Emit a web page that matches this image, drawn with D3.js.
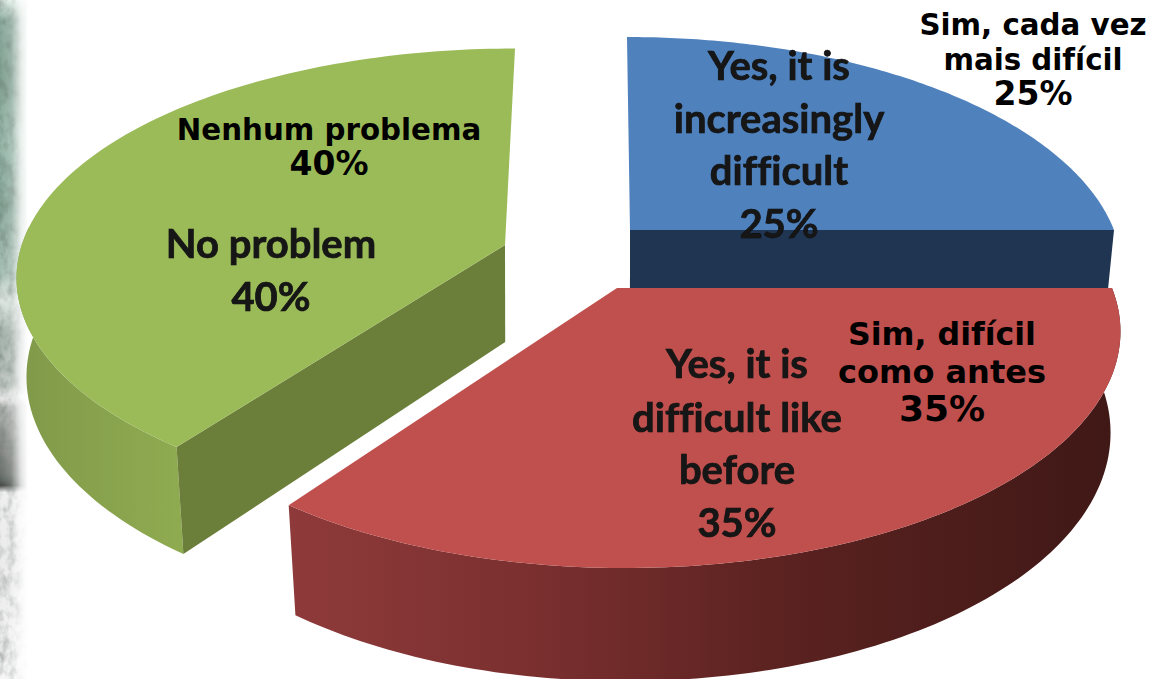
<!DOCTYPE html>
<html><head><meta charset="utf-8">
<script src="https://cdn.jsdelivr.net/npm/d3@7"></script>
<style>html,body{margin:0;padding:0;background:#fff}svg{display:block}</style>
</head><body><svg id="c" width="1157" height="679"></svg>
<script>
const categories = ["Yes, it is increasingly difficult", "Yes, it is difficult like before", "No problem"];
const values = [25, 35, 40];
const colorsTop = ["#4f81bd", "#c0504d", "#9bbb59"];
const colorsCut = ["#1f3552", "#4a1c1a", "#6b7f3a"];
const englishLabels = [["Yes, it is","increasingly","difficult","25%"],["Yes, it is","difficult like","before","35%"],["No problem","40%"]];
const portugueseLabels = [["Sim, cada vez","mais difícil","25%"],["Sim, difícil","como antes","35%"],["Nenhum problema","40%"]];

const W = 1157, H = 679;
const svg = d3.select("#c");
const defs = svg.append("defs");

// Left photo strip
const fade = defs.append("linearGradient").attr("id","fade");
fade.append("stop").attr("offset",0).attr("stop-color","#fff").attr("stop-opacity",0);
fade.append("stop").attr("offset",.4).attr("stop-color","#fff").attr("stop-opacity",.2);
fade.append("stop").attr("offset",.75).attr("stop-color","#fff").attr("stop-opacity",.8);
fade.append("stop").attr("offset",1).attr("stop-color","#fff").attr("stop-opacity",1);
const strip = defs.append("linearGradient").attr("id","strip").attr("x1",0).attr("x2",0).attr("y1",0).attr("y2",1);
[[0,"#dfeee6"],[.03,"#8aa99c"],[.12,"#7f9f90"],[.2,"#98b9ab"],[.3,"#85a597"],[.4,"#a5bfb3"],[.44,"#dce6e0"],[.5,"#a5b2ac"],[.57,"#bcc4c0"],[.585,"#f2f2f2"],[.6,"#b0b3b1"],[.7,"#6a6d6a"],[.715,"#454846"],[.725,"#eeeeee"],[.85,"#eaeaea"],[1,"#f6f6f6"]]
  .forEach(([o,c])=>strip.append("stop").attr("offset",o).attr("stop-color",c));
const noise = defs.append("filter").attr("id","noise").attr("x",0).attr("y",0).attr("width",1).attr("height",1);
noise.append("feTurbulence").attr("type","fractalNoise").attr("baseFrequency","0.12 0.08").attr("numOctaves",3).attr("seed",4).attr("result","n");
noise.append("feColorMatrix").attr("in","n").attr("type","matrix")
  .attr("values","0 0 0 0 0.1  0 0 0 0 0.15  0 0 0 0 0.12  1.2 0 0 0 -0.45").attr("result","a");
noise.append("feComposite").attr("in","a").attr("in2","SourceGraphic").attr("operator","over").attr("result","o");
noise.append("feComposite").attr("in","o").attr("in2","SourceGraphic").attr("operator","in");
svg.append("rect").attr("x",0).attr("y",0).attr("width",28).attr("height",H).attr("fill","url(#strip)").attr("filter","url(#noise)");
svg.append("rect").attr("x",0).attr("y",0).attr("width",28).attr("height",H).attr("fill","url(#fade)");

// Wall gradients
const gRed = defs.append("linearGradient").attr("id","wall1").attr("gradientUnits","userSpaceOnUse").attr("x1",290).attr("x2",1120).attr("y1",0).attr("y2",0);
[[0,"#8f3a3a"],[.3,"#7a2f2f"],[.6,"#5a2220"],[1,"#3f1816"]].forEach(([o,c])=>gRed.append("stop").attr("offset",o).attr("stop-color",c));
const gGreen = defs.append("linearGradient").attr("id","wall2").attr("gradientUnits","userSpaceOnUse").attr("x1",15).attr("x2",182).attr("y1",0).attr("y2",0);
[[0,"#80994a"],[1,"#8fab50"]].forEach(([o,c])=>gGreen.append("stop").attr("offset",o).attr("stop-color",c));

// Slight softening matching the blurry source
defs.append("filter").attr("id","soft").append("feGaussianBlur").attr("stdDeviation",.55);

// Perspective projection of the pie plane: one rim ellipse and one apex per exploded slice
const P = 0.184;
const rims = [{c:[627,230],A:487,B:228.5},{c:[625,288],A:487,B:228.5},{c:[515,236],A:490,B:222}];
const apexes = [[630,230],[617,288],[505,245]];
const project = (r,ang) => {
  const X = Math.sin(ang), Y = -Math.cos(ang), w = 1 - P*Y;
  return [r.c[0] + r.A*X/w, r.c[1] + r.B*Y/w];
};
const depth = y => 97 + 0.05*(y-245);
const lower = (c,p) => [c[0] + (p[0]-c[0])*0.98, p[1] + depth(p[1])];

const arcs = d3.pie().sort(null)(values);
const line = d3.line();
const order = [2,0,1];

order.forEach(i => {
  const a = arcs[i], r = rims[i], apex = apexes[i];
  const n = 120;
  const angs = d3.range(n+1).map(k => a.startAngle + (a.endAngle-a.startAngle)*k/n);
  const rim = angs.map(t => project(r,t));
  const g = svg.append("g");

  // outer wall: only the part of the rim that faces the viewer
  if (i !== 0) {
    const front = angs.filter(t => t <= 1.5*Math.PI + 0.05 || i !== 2).map(t => project(r,t));
    const frontLow = front.map(p => lower(r.c,p));
    g.append("path").attr("d", line(front.concat(frontLow.slice().reverse()))+"Z")
      .attr("fill", `url(#wall${i})`);
  }

  // visible cut face
  if (i === 2) {
    const e = rim[0];
    g.append("path").attr("d", line([apex,e,lower(r.c,e),lower(r.c,apex)])+"Z").attr("fill",colorsCut[i]);
  }
  if (i === 0) {
    const e = rim[n];
    g.append("path").attr("d", line([apex,e,lower(r.c,e),lower(r.c,apex)])+"Z").attr("fill",colorsCut[i]);
  }
  // top face
  g.append("path").attr("d", line([apex].concat(rim))+"Z").attr("fill",colorsTop[i]);
});

// Labels
const engPos = [[779,[80,133,185,238]],[737,[378,432,484,537]],[271,[258,311]]];
const ptPos = [[1033,[35,70,105]],[942,[345,383,421]],[329,[140,175]]];
const ptSizes = [[29.3,29.3,33],[31.6,32,36],[29.3,33]];
const tg = svg.append("g").attr("filter","url(#soft)");
englishLabels.forEach((lines,i)=>lines.forEach((t,k)=>{
  tg.append("text").attr("x",engPos[i][0]).attr("y",engPos[i][1][k]).attr("text-anchor","middle")
    .attr("font-family","Lato").attr("font-weight",700).attr("font-size",40).attr("fill","#141414")
    .attr("stroke","#141414").attr("stroke-width",.7).style("font-variant-ligatures","none").text(t);
}));
const pg = svg.append("g");
portugueseLabels.forEach((lines,i)=>lines.forEach((t,k)=>{
  pg.append("text").attr("x",ptPos[i][0]).attr("y",ptPos[i][1][k]).attr("text-anchor","middle")
    .attr("font-family","DejaVu Sans").attr("font-weight",700).attr("font-size",ptSizes[i][k]).attr("fill","#000").text(t);
}));
</script></body></html>
